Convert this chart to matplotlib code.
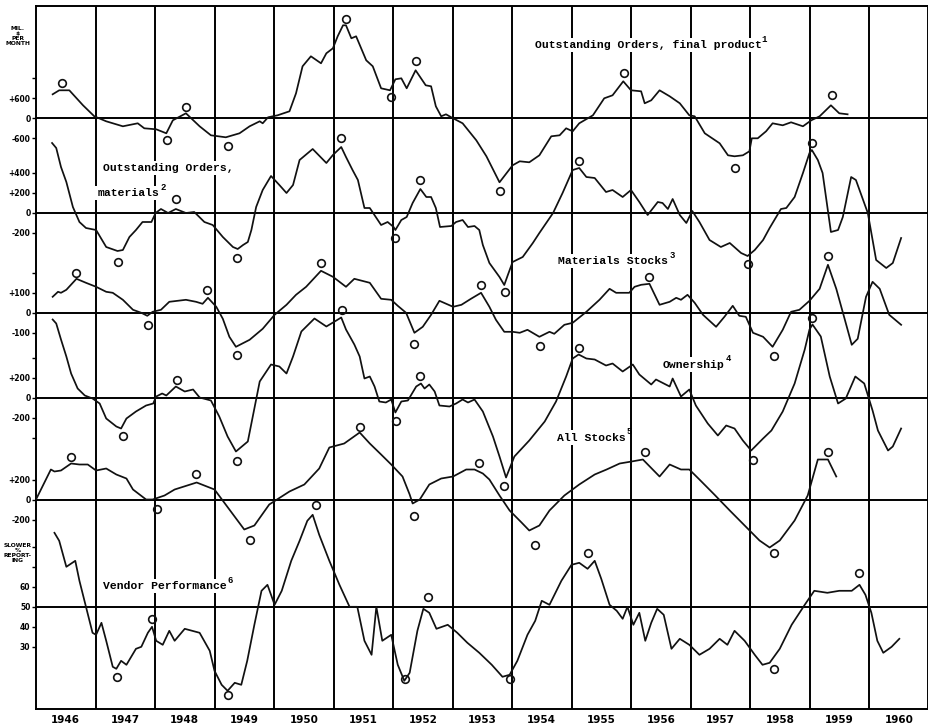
import numpy as np
import matplotlib.pyplot as plt

# monthly-ish readings: (year, value)
# outstanding orders, final product (mil. $ per month)
final_orders = [
    (1946.28, 240), (1946.39, 280), (1946.56, 280), (1946.79, 130), (1946.98, 20),
    (1947.18, -30), (1947.46, -80), (1947.71, -50), (1947.82, -100), (1948.02, -110),
    (1948.19, -150), (1948.30, -20), (1948.52, 50), (1948.75, -80), (1948.94, -170),
    (1949.19, -190), (1949.42, -150), (1949.59, -80), (1949.76, -30), (1949.81, -50),
    (1949.90, 10), (1950.06, 30), (1950.26, 70), (1950.37, 250), (1950.48, 520),
    (1950.62, 620), (1950.79, 550), (1950.88, 650), (1950.99, 700), (1951.07, 820),
    (1951.16, 930), (1951.21, 930), (1951.30, 800), (1951.38, 820), (1951.55, 580),
    (1951.66, 520), (1951.80, 300), (1951.95, 280), (1952.04, 390), (1952.14, 400),
    (1952.23, 300), (1952.38, 480), (1952.55, 330), (1952.64, 320), (1952.72, 120),
    (1952.81, 20), (1952.89, 40), (1953.01, 0), (1953.17, -50), (1953.40, -220),
    (1953.57, -380), (1953.79, -640), (1954.01, -470), (1954.13, -430), (1954.29, -440),
    (1954.46, -370), (1954.66, -180), (1954.80, -170), (1954.91, -100), (1955.02, -130),
    (1955.13, -50), (1955.36, 30), (1955.55, 200), (1955.69, 230), (1955.87, 370),
    (1956.00, 280), (1956.17, 270), (1956.23, 150), (1956.34, 180), (1956.48, 280),
    (1956.65, 220), (1956.82, 150), (1956.98, 30), (1957.07, 20), (1957.24, -150),
    (1957.49, -250), (1957.63, -370), (1957.74, -380), (1957.88, -370), (1957.99, -330),
    (1958.03, -200), (1958.13, -200), (1958.27, -130), (1958.38, -50), (1958.55, -70),
    (1958.69, -40), (1958.89, -80), (1959.03, -20), (1959.17, 20), (1959.36, 130),
    (1959.50, 50), (1959.64, 40),
]
final_orders_turns = [
    (1946.44, 350), (1948.20, -220), (1948.52, 110), (1949.22, -280), (1951.21, 990),
    (1951.96, 210), (1952.38, 570), (1953.80, -730), (1955.88, 450), (1957.74, -500),
    (1959.38, 230),
]

# outstanding orders, materials
material_orders = [
    (1946.27, 700), (1946.34, 650), (1946.42, 460), (1946.51, 310), (1946.62, 60),
    (1946.73, -90), (1946.84, -150), (1947.01, -170), (1947.18, -340), (1947.37, -380),
    (1947.46, -370), (1947.57, -240), (1947.68, -170), (1947.79, -90), (1947.94, -90),
    (1948.01, 0), (1948.10, 40), (1948.22, 0), (1948.35, 40), (1948.52, 0),
    (1948.66, 10), (1948.83, -90), (1948.97, -120), (1949.14, -240), (1949.31, -340),
    (1949.39, -360), (1949.48, -320), (1949.56, -290), (1949.62, -170), (1949.70, 60),
    (1949.81, 230), (1949.95, 370), (1950.09, 280), (1950.21, 200), (1950.32, 280),
    (1950.43, 530), (1950.65, 640), (1950.88, 500), (1950.99, 580), (1951.13, 660),
    (1951.21, 560), (1951.32, 430), (1951.41, 330), (1951.52, 50), (1951.61, 50),
    (1951.80, -120), (1951.91, -90), (1952.01, -140), (1952.04, -170), (1952.14, -70),
    (1952.23, -40), (1952.33, 100), (1952.46, 240), (1952.56, 160), (1952.64, 160),
    (1952.72, 50), (1952.79, -140), (1952.98, -130), (1953.06, -90), (1953.17, -70),
    (1953.26, -140), (1953.37, -130), (1953.45, -170), (1953.51, -320), (1953.62, -500),
    (1953.79, -640), (1953.87, -720), (1953.93, -620), (1954.01, -490), (1954.18, -440),
    (1954.35, -300), (1954.46, -200), (1954.69, 0), (1954.85, 200), (1955.02, 430),
    (1955.13, 450), (1955.25, 360), (1955.39, 350), (1955.58, 210), (1955.69, 230),
    (1955.86, 160), (1956.00, 230), (1956.14, 110), (1956.28, -20), (1956.45, 110),
    (1956.53, 100), (1956.62, 40), (1956.70, 140), (1956.82, -20), (1956.93, -100),
    (1957.03, 20), (1957.15, -90), (1957.32, -270), (1957.51, -340), (1957.66, -300),
    (1957.85, -400), (1957.96, -430), (1958.08, -370), (1958.22, -270), (1958.33, -150),
    (1958.52, 40), (1958.61, 50), (1958.75, 160), (1958.89, 400), (1959.00, 600),
    (1959.04, 630), (1959.14, 530), (1959.22, 400), (1959.36, -190), (1959.48, -170),
    (1959.56, -40), (1959.70, 360), (1959.78, 330), (1959.98, 0), (1960.12, -470),
    (1960.29, -550), (1960.40, -500), (1960.54, -250),
]
material_orders_turns = [
    (1947.37, -490), (1948.36, 140), (1949.38, -450), (1951.13, 750), (1952.04, -250),
    (1952.46, 330), (1953.88, -790), (1955.13, 520), (1957.96, -510), (1959.05, 700),
]

# materials stocks
material_stocks = [
    (1946.28, 80), (1946.37, 105), (1946.42, 100), (1946.51, 115), (1946.68, 170),
    (1946.84, 150), (1947.01, 130), (1947.18, 105), (1947.29, 100), (1947.46, 65),
    (1947.63, 15), (1947.77, 0), (1947.87, -15), (1947.96, 5), (1948.10, 15),
    (1948.24, 55), (1948.38, 60), (1948.52, 65), (1948.69, 55), (1948.80, 45),
    (1948.89, 75), (1949.03, 30), (1949.14, -30), (1949.25, -120), (1949.36, -170),
    (1949.59, -135), (1949.81, -80), (1950.01, -10), (1950.21, 40), (1950.37, 90),
    (1950.54, 130), (1950.79, 210), (1950.99, 180), (1951.21, 130), (1951.35, 170),
    (1951.61, 150), (1951.80, 70), (1951.97, 65), (1952.08, 35), (1952.22, 0),
    (1952.36, -100), (1952.50, -70), (1952.64, -10), (1952.78, 60), (1953.01, 30),
    (1953.15, 40), (1953.31, 70), (1953.48, 100), (1953.62, 30), (1953.73, -35),
    (1953.87, -95), (1954.01, -95), (1954.13, -100), (1954.26, -85), (1954.46, -120),
    (1954.63, -95), (1954.71, -105), (1954.88, -60), (1955.02, -50), (1955.25, 5),
    (1955.47, 65), (1955.64, 120), (1955.75, 100), (1955.97, 100), (1956.06, 130),
    (1956.17, 140), (1956.31, 145), (1956.48, 40), (1956.65, 55), (1956.76, 75),
    (1956.84, 65), (1956.95, 90), (1957.07, 50), (1957.21, -10), (1957.43, -70),
    (1957.57, -20), (1957.71, 35), (1957.82, -15), (1957.93, -20), (1958.05, -100),
    (1958.22, -120), (1958.38, -170), (1958.55, -85), (1958.69, 5), (1958.83, 15),
    (1959.00, 60), (1959.17, 120), (1959.31, 240), (1959.45, 120), (1959.59, -30),
    (1959.71, -160), (1959.81, -130), (1959.95, 80), (1960.06, 155), (1960.18, 120),
    (1960.34, -10), (1960.54, -60),
]
material_stocks_turns = [
    (1946.68, 200), (1947.88, -60), (1948.88, 115), (1949.37, -210), (1950.79, 250),
    (1952.36, -155), (1953.48, 140), (1954.47, -165), (1956.31, 180), (1958.40, -215),
    (1959.31, 285),
]

# ownership
ownership = [
    (1946.28, 780), (1946.34, 740), (1946.42, 580), (1946.51, 410), (1946.59, 240),
    (1946.70, 90), (1946.82, 20), (1946.95, -10), (1947.07, -60), (1947.18, -210),
    (1947.35, -290), (1947.43, -310), (1947.52, -210), (1947.68, -140), (1947.85, -80),
    (1947.97, -60), (1948.02, 10), (1948.12, 40), (1948.19, 20), (1948.35, 110),
    (1948.50, 60), (1948.64, 80), (1948.75, 0), (1948.94, -30), (1949.08, -190),
    (1949.22, -390), (1949.36, -540), (1949.56, -440), (1949.76, 160), (1949.95, 330),
    (1950.09, 310), (1950.21, 240), (1950.32, 410), (1950.46, 660), (1950.68, 790),
    (1950.88, 710), (1951.02, 760), (1951.13, 800), (1951.21, 680), (1951.35, 530),
    (1951.44, 410), (1951.52, 190), (1951.61, 210), (1951.69, 110), (1951.77, -40),
    (1951.88, -50), (1951.97, -20), (1952.04, -150), (1952.14, -40), (1952.25, -30),
    (1952.39, 110), (1952.47, 140), (1952.53, 90), (1952.61, 130), (1952.70, 60),
    (1952.78, -80), (1952.95, -90), (1953.06, -60), (1953.17, -20), (1953.26, -50),
    (1953.37, -20), (1953.51, -140), (1953.68, -390), (1953.79, -590), (1953.90, -800),
    (1954.04, -590), (1954.29, -430), (1954.55, -240), (1954.74, -40), (1954.91, 210),
    (1955.02, 390), (1955.12, 430), (1955.25, 390), (1955.39, 380), (1955.58, 320),
    (1955.69, 340), (1955.86, 260), (1956.03, 330), (1956.14, 230), (1956.34, 130),
    (1956.42, 180), (1956.65, 110), (1956.70, 190), (1956.84, 10), (1956.98, 80),
    (1957.09, -80), (1957.29, -260), (1957.46, -380), (1957.60, -280), (1957.74, -310),
    (1957.88, -430), (1958.02, -530), (1958.22, -410), (1958.36, -330), (1958.55, -140),
    (1958.75, 140), (1958.92, 480), (1959.00, 680), (1959.05, 730), (1959.19, 610),
    (1959.34, 210), (1959.48, -60), (1959.61, -10), (1959.77, 210), (1959.92, 140),
    (1960.06, -130), (1960.15, -330), (1960.32, -530), (1960.40, -490), (1960.54, -310),
]
ownership_turns = [
    (1947.46, -380), (1948.37, 180), (1949.37, -630), (1951.14, 880), (1952.05, -230),
    (1952.46, 220), (1953.86, -880), (1955.13, 500), (1958.05, -620), (1959.04, 800),
]

# all stocks
all_stocks = [
    (1946.00, 0), (1946.25, 300), (1946.31, 280), (1946.42, 290), (1946.59, 360),
    (1946.73, 350), (1946.87, 350), (1947.01, 290), (1947.18, 310), (1947.35, 250),
    (1947.52, 210), (1947.63, 100), (1947.85, 0), (1947.96, 0), (1948.16, 40),
    (1948.33, 100), (1948.70, 170), (1949.00, 100), (1949.25, -100), (1949.50, -300),
    (1949.67, -260), (1949.92, -50), (1950.26, 80), (1950.51, 150), (1950.76, 310),
    (1950.93, 520), (1951.18, 560), (1951.44, 670), (1951.61, 560), (1951.80, 450),
    (1951.97, 350), (1952.16, 230), (1952.28, 50), (1952.33, -40), (1952.45, 0),
    (1952.61, 150), (1952.81, 210), (1953.01, 230), (1953.23, 300), (1953.37, 300),
    (1953.51, 260), (1953.62, 200), (1953.79, 40), (1953.96, -110), (1954.16, -230),
    (1954.29, -310), (1954.46, -260), (1954.63, -110), (1954.88, 40), (1955.13, 150),
    (1955.39, 250), (1955.59, 300), (1955.81, 360), (1956.01, 380), (1956.20, 400),
    (1956.48, 230), (1956.65, 350), (1956.84, 300), (1956.98, 300), (1957.15, 200),
    (1957.40, 50), (1957.66, -110), (1957.91, -260), (1958.16, -410), (1958.33, -480),
    (1958.50, -410), (1958.75, -210), (1958.97, 40), (1959.14, 400), (1959.31, 400),
    (1959.45, 230),
]
all_stocks_turns = [
    (1946.59, 430), (1948.04, -90), (1948.69, 260), (1949.59, -400), (1951.45, 730),
    (1952.36, -160), (1953.45, 370), (1954.38, -450), (1956.24, 480), (1958.41, -530),
    (1959.31, 480),
]

# vendor performance, % reporting slower deliveries
vendor = [
    (1946.31, 87), (1946.39, 83), (1946.51, 70), (1946.66, 73), (1946.73, 63),
    (1946.84, 50), (1946.95, 37), (1947.01, 36), (1947.10, 42), (1947.18, 33),
    (1947.29, 20), (1947.35, 19), (1947.43, 23), (1947.52, 21), (1947.68, 29),
    (1947.77, 30), (1947.88, 37), (1947.95, 40), (1948.02, 33), (1948.13, 31),
    (1948.24, 38), (1948.33, 33), (1948.50, 39), (1948.75, 37), (1948.92, 28),
    (1949.00, 18), (1949.12, 11), (1949.22, 8), (1949.34, 12), (1949.45, 11),
    (1949.55, 23), (1949.67, 41), (1949.79, 58), (1949.89, 61), (1950.01, 51),
    (1950.13, 58), (1950.29, 73), (1950.43, 83), (1950.56, 93), (1950.65, 96),
    (1950.76, 86), (1950.93, 73), (1951.10, 61), (1951.27, 50), (1951.40, 50),
    (1951.52, 33), (1951.64, 26), (1951.72, 50), (1951.82, 33), (1951.97, 36),
    (1952.08, 21), (1952.19, 13), (1952.28, 17), (1952.41, 38), (1952.51, 49),
    (1952.61, 47), (1952.73, 39), (1952.92, 41), (1953.08, 37), (1953.25, 32),
    (1953.45, 27), (1953.66, 21), (1953.84, 15), (1953.96, 16), (1954.09, 23),
    (1954.26, 36), (1954.39, 43), (1954.50, 53), (1954.63, 51), (1954.83, 63),
    (1955.00, 71), (1955.13, 72), (1955.27, 69), (1955.39, 73), (1955.50, 64),
    (1955.64, 51), (1955.76, 48), (1955.86, 44), (1955.94, 50), (1956.04, 41),
    (1956.14, 47), (1956.24, 33), (1956.34, 42), (1956.44, 49), (1956.55, 46),
    (1956.68, 29), (1956.82, 34), (1956.98, 31), (1957.15, 26), (1957.32, 29),
    (1957.49, 34), (1957.62, 31), (1957.74, 38), (1957.91, 33), (1958.08, 26),
    (1958.21, 21), (1958.33, 22), (1958.50, 29), (1958.70, 41), (1958.92, 51),
    (1959.08, 58), (1959.30, 57), (1959.50, 58), (1959.71, 58), (1959.84, 61),
    (1959.94, 56), (1960.04, 47), (1960.14, 33), (1960.24, 27), (1960.38, 30),
    (1960.51, 34),
]
vendor_turns = [
    (1947.36, 15), (1947.95, 44), (1949.22, 6), (1950.70, 101), (1952.21, 14),
    (1952.58, 55), (1953.97, 14), (1955.27, 77), (1958.41, 19), (1959.84, 67),
]

years = list(range(1946, 1961))

# left scale ticks and their printed labels
fo_ticks, fo_tick_labels = [400, 200, 0, -200], ['', '+600', '0', '-600']
mo_ticks, mo_tick_labels = [400, 200, 0, -200], ['+400', '+200', '0', '-200']
ms_ticks, ms_tick_labels = [200, 100, 0, -100], ['', '+100', '0', '-100']
ow_ticks, ow_tick_labels = [400, 200, 0, -200, -400], ['', '+200', '0', '-200', '']
as_ticks, as_tick_labels = [200, 0, -200], ['+200', '0', '-200']
vp_ticks, vp_tick_labels = [80, 70, 60, 50, 40, 30], ['', '', '60', '50', '40', '30']

# figure geometry (pixels of a 929 x 726 canvas)
W, H = 929, 726
px_left, px_right, px_top, px_bottom = 36, 928.5, 5.7, 709.3

fig = plt.figure(figsize=(W / 100, H / 100), dpi=100)
rect = [px_left / W, 1 - px_bottom / H, (px_right - px_left) / W, (px_bottom - px_top) / H]

base = fig.add_axes(rect)
base.set_xlim(1946, 1961)
base.set_ylim(0, 1)
base.set_yticks([])
base.set_xticks([y + 0.5 for y in years])
base.set_xticklabels([str(y) for y in years], fontsize=7.5, fontweight='bold')
base.tick_params(axis='x', length=0, pad=4)
for s in base.spines.values():
    s.set_linewidth(1.4)
for y in years[1:]:
    base.axvline(y, color='k', lw=1.4, zorder=1)

mono = ['Liberation Mono', 'DejaVu Sans Mono']
label_fs = 8.2


def strip(data, turns, ref, ref_px, per_px, ticks, tick_labels, lines, sup):
    ax = fig.add_axes(rect, sharex=base)
    ax.patch.set_visible(False)
    for s in ax.spines.values():
        s.set_visible(False)
    ax.set_ylim(ref - (px_bottom - ref_px) * per_px, ref + (ref_px - px_top) * per_px)
    ax.axhline(ref, color='k', lw=1.4, zorder=1)
    t, v = zip(*data)
    ax.plot(t, v, color='#111111', lw=1.25, zorder=3)
    tt, tv = zip(*turns)
    ax.plot(tt, tv, 'o', ms=5.5, mfc='none', mec='#111111', mew=1.2, zorder=3)
    ax.set_yticks(ticks)
    ax.set_yticklabels(tick_labels, fontsize=5.5, fontweight='bold')
    ax.tick_params(axis='y', length=3, width=1, pad=1)
    ax.tick_params(axis='x', bottom=False, labelbottom=False)
    for i, (txt, x, y) in enumerate(lines):
        ax.text(x, y, txt, fontsize=label_fs, fontweight='bold', family=mono,
                va='center', ha='left', zorder=4,
                bbox=dict(facecolor='white', edgecolor='none', pad=1.5))
        if i == len(lines) - 1:
            ax.annotate(sup, (x, y), xytext=(len(txt) * 0.6 * label_fs + 1, 4),
                        textcoords='offset points', fontsize=6.5, fontweight='bold',
                        family=mono, va='center', ha='left', zorder=4)
    return ax


strip(final_orders, final_orders_turns, 0, 118.3, 10, fo_ticks, fo_tick_labels,
      [('Outstanding Orders, final product', 1954.38, 730)], '1')
strip(material_orders, material_orders_turns, 0, 213, 10, mo_ticks, mo_tick_labels,
      [('Outstanding Orders,', 1947.13, 450), ('materials', 1947.03, 200)], '2')
strip(material_stocks, material_stocks_turns, 0, 312.8, 5, ms_ticks, ms_tick_labels,
      [('Materials Stocks', 1954.78, 260)], '3')
strip(ownership, ownership_turns, 0, 397.5, 10, ow_ticks, ow_tick_labels,
      [('Ownership', 1956.53, 330)], '4')
strip(all_stocks, all_stocks_turns, 0, 499.5, 10, as_ticks, as_tick_labels,
      [('All Stocks', 1954.75, 620)], '5')
strip(vendor, vendor_turns, 50, 606.8, 0.5, vp_ticks, vp_tick_labels,
      [('Vendor Performance', 1947.12, 60.4)], '6')

# unit notes in the left margin
fig.text(18 / W, 1 - 36 / H, 'MIL.\n$\nPER\nMONTH', fontsize=4.3, fontweight='bold',
         ha='center', va='center', linespacing=1.05)
fig.text(18 / W, 1 - 553 / H, 'SLOWER\n%\nREPORT-\nING', fontsize=4.3, fontweight='bold',
         ha='center', va='center', linespacing=1.05)

fig.savefig('out.png', dpi=100)
